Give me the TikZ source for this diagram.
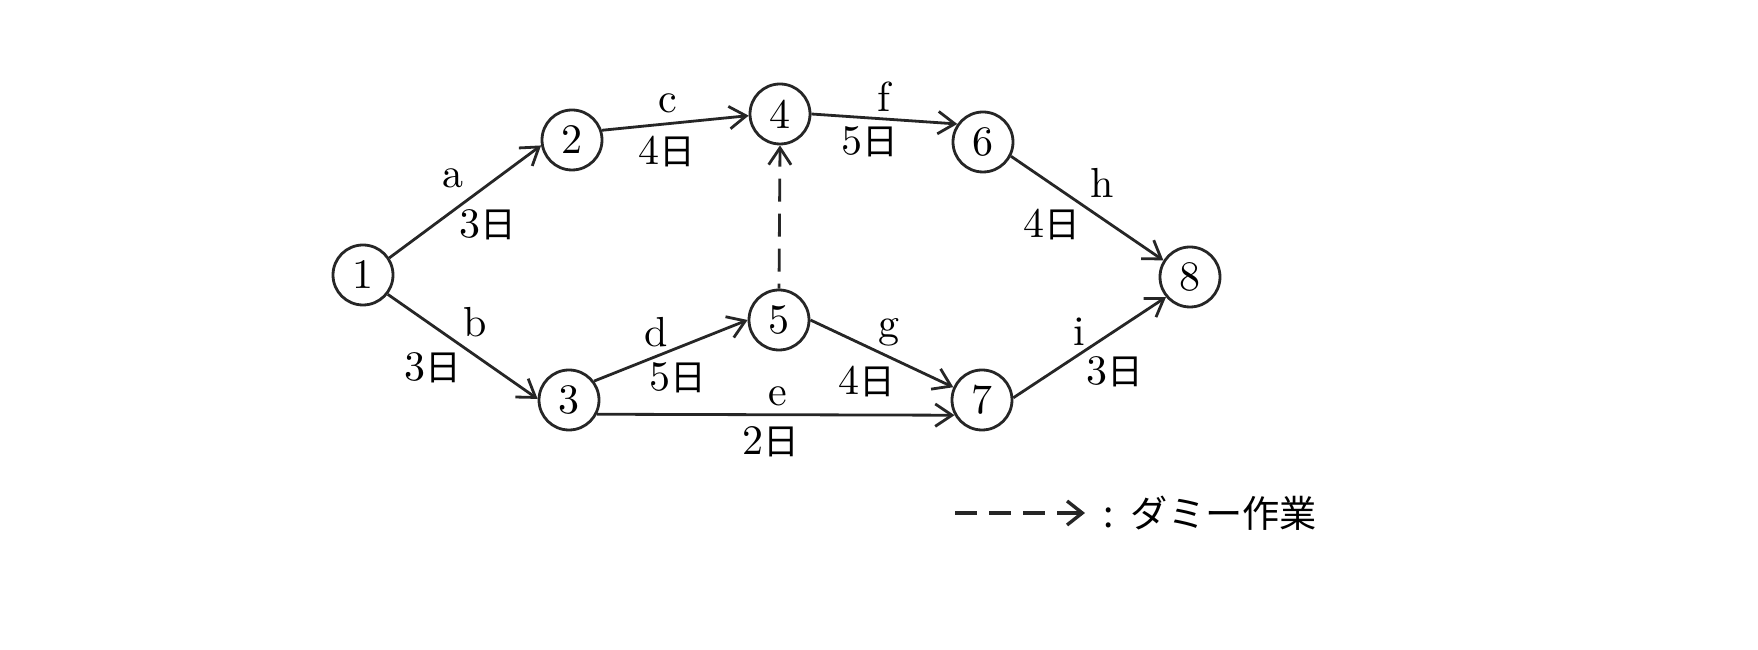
\documentclass[tikz,border=0pt]{standalone}
\usepackage{fontspec}
\newfontfamily\cjk{Noto Sans CJK JP}
\newfontfamily\cjkscaled[Scale=0.85]{Noto Sans CJK JP}
\usetikzlibrary{arrows.meta}
\newcommand\nichi{{\cjkscaled 日}}
\begin{document}
\begin{tikzpicture}[x=0.25pt,y=-0.25pt,
  ev/.style={circle,draw=black!85,line width=0.7pt,minimum size=15pt,inner sep=0pt,font=\fontsize{10.5}{12}\selectfont},
  lab/.style={inner sep=0pt,font=\fontsize{10.5}{12}\selectfont},
  act/.style={draw=black!85,line width=0.7pt,-{Straight Barb[length=4.2pt,width=5.6pt,line width=0.7pt]}},
  dummy/.style={act,dash pattern=on 5.75pt off 3pt,dash phase=4.5pt}]
\useasboundingbox (0,0) rectangle (1758,650);
\node[ev] (n1) at (363,275) {1};
\node[ev] (n2) at (572,140) {2};
\node[ev] (n3) at (569,400) {3};
\node[ev] (n4) at (780,114) {4};
\node[ev] (n5) at (779,320) {5};
\node[ev] (n6) at (983,142) {6};
\node[ev] (n7) at (982,400) {7};
\node[ev] (n8) at (1190,277) {8};
\draw[act] (n1.33) -- (n2.190);
\draw[act] (n1.-38) -- (n3.178);
\draw[act] (n2.18) -- (n4.183);
\draw[act] (n3.37) -- (n5.180);
\draw[act] (n3.-27) -- (n7.209);
\draw[dummy] (n5.north) -- (n4.south);
\draw[act] (n4.east) -- (n6.145);
\draw[act] (n5.east) -- (n7.156);
\draw[act] (n6.-27) -- (n8.148);
\draw[act] (n7.4) -- (n8.220);
\node[lab] (la) at (453,178) {a};
\node[lab] (ta) at (488,225) {3\nichi};
\node[lab] (lb) at (475,322) {b};
\node[lab] (tb) at (433,368) {3\nichi};
\node[lab] (lc) at (668,103) {c};
\node[lab] (tc) at (667,152) {4\nichi};
\node[lab] (ld) at (656,332) {d};
\node[lab] (td) at (678,378) {5\nichi};
\node[lab] (le) at (778,396) {e};
\node[lab] (te) at (771,442) {2\nichi};
\node[lab] (lf) at (884,97) {f};
\node[lab] (tf) at (870,142) {5\nichi};
\node[lab] (lg) at (889,332) {g};
\node[lab] (tg) at (867,382) {4\nichi};
\node[lab] (lh) at (1102,183) {h};
\node[lab] (th) at (1052,225) {4\nichi};
\node[lab] (li) at (1079,332) {i};
\node[lab] (ti) at (1115,372) {3\nichi};
\coordinate (ls) at (955,513);
\coordinate (le2) at (1085,513);
\draw[draw=black!85,line width=0.85pt,dash pattern=on 5.5pt off 3pt,-{Straight Barb[length=3.8pt,width=6pt,line width=0.85pt]}] (ls) -- (le2);
\node[inner sep=0pt,anchor=west,font=\fontsize{9.3}{11}\cjk] (lt) at (1103,513) {:\hspace{0.45em}ダミー作業};
\end{tikzpicture}
\end{document}
